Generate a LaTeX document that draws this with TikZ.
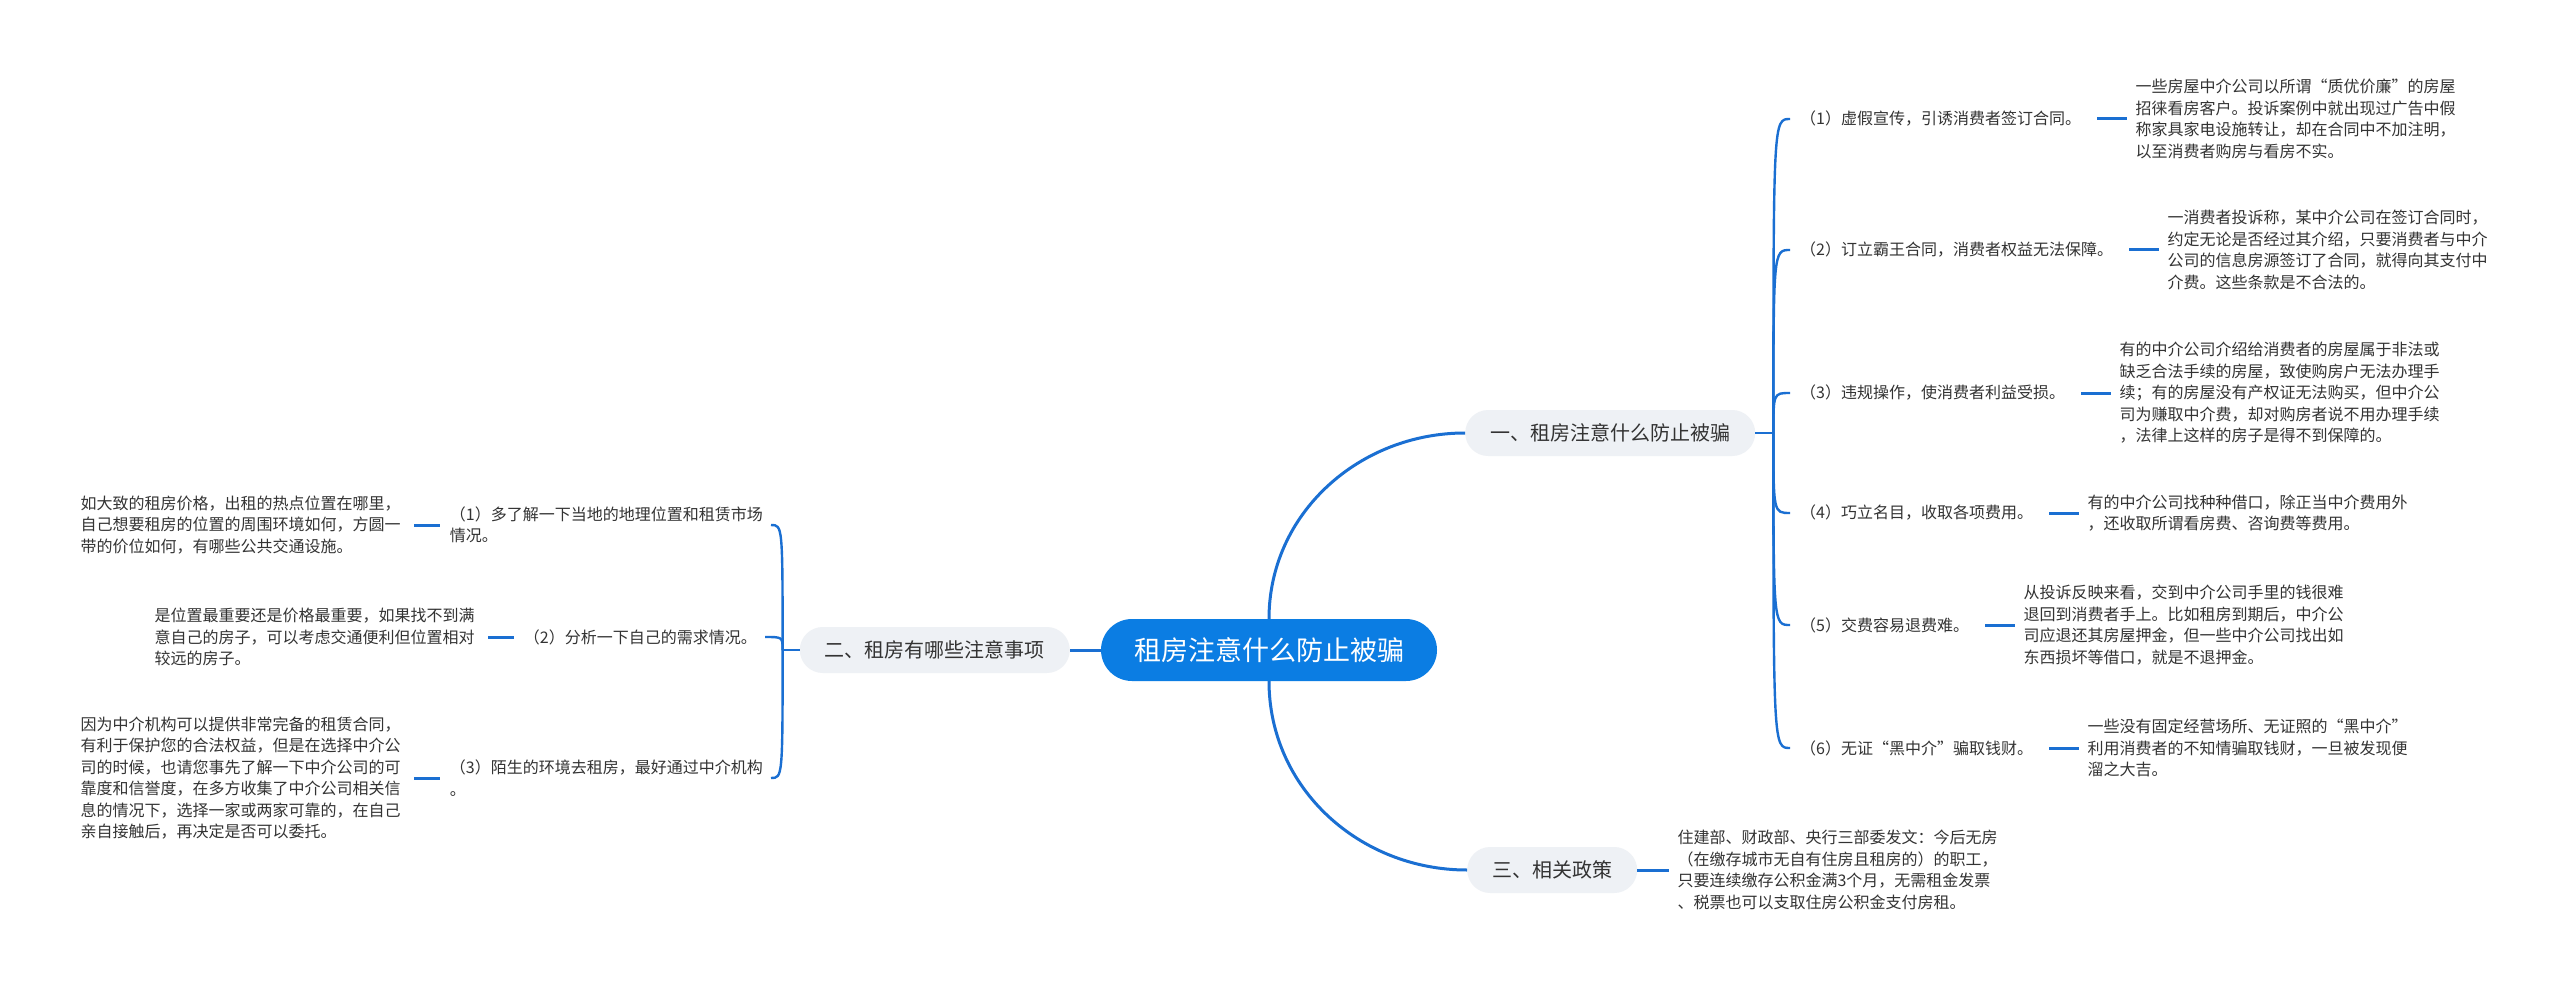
\documentclass[tikz,border=0pt]{standalone}
\usepackage{fontspec}
\setmainfont{Noto Sans CJK SC}
\definecolor{rootblue}{HTML}{0B7DE3}
\definecolor{lineblue}{HTML}{1A6FD2}
\definecolor{branchgray}{HTML}{EEF1F5}
\definecolor{txt}{HTML}{333333}
\begin{document}
\begin{tikzpicture}[x=1pt,y=-1pt,
  rootbox/.style={fill=rootblue,text=white,rounded corners=31pt,minimum height=62pt,minimum width=336pt,inner sep=0pt,font=\fontsize{27}{32}\selectfont},
  branchbox/.style={fill=branchgray,text=txt,rounded corners=23pt,minimum height=46pt,inner xsep=25pt,inner ysep=0pt,font=\fontsize{20}{24}\selectfont},
  itemtext/.style={text=txt,align=left,inner sep=0pt,font=\fontsize{16}{21.5}\selectfont},
  detailtext/.style={text=txt,align=left,inner sep=0pt,font=\fontsize{16}{21.5}\selectfont},
  mainconn/.style={draw=lineblue,line width=3pt},
  conn/.style={draw=lineblue,line width=2.4pt},
  shortconn/.style={draw=lineblue,line width=3pt}]
\fill[white] (0,0) rectangle (2560,987);
\useasboundingbox (0,0) rectangle (2560,987);

% root and branches
\node[rootbox] (root) at (1269,650) {租房注意什么防止被骗};
\node[branchbox,anchor=west] (b1) at (1465,433) {一、租房注意什么防止被骗};
\node[branchbox,anchor=east] (b2) at (1070,650) {二、租房有哪些注意事项};
\node[branchbox,anchor=west] (b3) at (1467,870) {三、相关政策};

\draw[mainconn] (root.north) to[out=90,in=180] (b1.west);
\draw[mainconn] (root.south) to[out=-90,in=180] (b3.west);
\draw[mainconn] (root.west) -- (b2.east);

% branch 1 items
\coordinate (s1) at ([xshift=18pt]b1.east);
\draw[conn] (b1.east) -- (s1);

\node[itemtext,anchor=west] (i1) at (1800,119) {（1）虚假宣传，引诱消费者签订合同。};
\node[itemtext,anchor=west] (i2) at (1800,250) {（2）订立霸王合同，消费者权益无法保障。};
\node[itemtext,anchor=west] (i3) at (1800,393) {（3）违规操作，使消费者利益受损。};
\node[itemtext,anchor=west] (i4) at (1800,513) {（4）巧立名目，收取各项费用。};
\node[itemtext,anchor=west] (i5) at (1800,625) {（5）交费容易退费难。};
\node[itemtext,anchor=west] (i6) at (1800,748) {（6）无证“黑中介”骗取钱财。};

\foreach \i in {i1,i2,i3,i4,i5,i6}{
  \draw[conn] (s1) .. controls (s1 |- \i.west) .. ([xshift=-10pt]\i.west);
}

\node[detailtext,anchor=west] (d1) at ([xshift=54pt]i1.east) {一些房屋中介公司以所谓“质优价廉”的房屋\\招徕看房客户。投诉案例中就出现过广告中假\\称家具家电设施转让，却在合同中不加注明，\\以至消费者购房与看房不实。};
\node[detailtext,anchor=west] (d2) at ([xshift=54pt]i2.east) {一消费者投诉称，某中介公司在签订合同时，\\约定无论是否经过其介绍，只要消费者与中介\\公司的信息房源签订了合同，就得向其支付中\\介费。这些条款是不合法的。};
\node[detailtext,anchor=west] (d3) at ([xshift=54pt]i3.east) {有的中介公司介绍给消费者的房屋属于非法或\\缺乏合法手续的房屋，致使购房户无法办理手\\续；有的房屋没有产权证无法购买，但中介公\\司为赚取中介费，却对购房者说不用办理手续\\，法律上这样的房子是得不到保障的。};
\node[detailtext,anchor=west] (d4) at ([xshift=54pt]i4.east) {有的中介公司找种种借口，除正当中介费用外\\，还收取所谓看房费、咨询费等费用。};
\node[detailtext,anchor=west] (d5) at ([xshift=54pt]i5.east) {从投诉反映来看，交到中介公司手里的钱很难\\退回到消费者手上。比如租房到期后，中介公\\司应退还其房屋押金，但一些中介公司找出如\\东西损坏等借口，就是不退押金。};
\node[detailtext,anchor=west] (d6) at ([xshift=54pt]i6.east) {一些没有固定经营场所、无证照的“黑中介”\\利用消费者的不知情骗取钱财，一旦被发现便\\溜之大吉。};

\foreach \i/\d in {i1/d1,i2/d2,i3/d3,i4/d4,i5/d5,i6/d6}{
  \draw[shortconn] ([xshift=16pt]\i.east) -- ([xshift=-8pt]\d.west |- \i.east);
}

% branch 3 detail
\node[detailtext,anchor=west] (d7) at ([xshift=40pt]b3.east) {住建部、财政部、央行三部委发文：今后无房\\（在缴存城市无自有住房且租房的）的职工，\\只要连续缴存公积金满3个月，无需租金发票\\、税票也可以支取住房公积金支付房租。};
\draw[shortconn] (b3.east) -- ([xshift=-8pt]d7.west |- b3.east);

% branch 2 items
\coordinate (s2) at ([xshift=-17pt]b2.west);
\draw[conn] (b2.west) -- (s2);

\node[itemtext,anchor=east] (li1) at (763,525) {（1）多了解一下当地的地理位置和租赁市场\\情况。};
\node[itemtext,anchor=east] (li2) at (757,637) {（2）分析一下自己的需求情况。};
\node[itemtext,anchor=east] (li3) at (763,778) {（3）陌生的环境去租房，最好通过中介机构\\。};

\foreach \i in {li1,li2,li3}{
  \draw[conn] (s2) .. controls (s2 |- \i.east) .. ([xshift=8pt]\i.east);
}

\node[detailtext,anchor=east] (ld1) at ([xshift=-49pt]li1.west) {如大致的租房价格，出租的热点位置在哪里，\\自己想要租房的位置的周围环境如何，方圆一\\带的价位如何，有哪些公共交通设施。};
\node[detailtext,anchor=east] (ld2) at ([xshift=-49pt]li2.west) {是位置最重要还是价格最重要，如果找不到满\\意自己的房子，可以考虑交通便利但位置相对\\较远的房子。};
\node[detailtext,anchor=east] (ld3) at ([xshift=-49pt]li3.west) {因为中介机构可以提供非常完备的租赁合同，\\有利于保护您的合法权益，但是在选择中介公\\司的时候，也请您事先了解一下中介公司的可\\靠度和信誉度，在多方收集了中介公司相关信\\息的情况下，选择一家或两家可靠的，在自己\\亲自接触后，再决定是否可以委托。};

\foreach \i/\d in {li1/ld1,li2/ld2,li3/ld3}{
  \draw[shortconn] ([xshift=-10pt]\i.west) -- ([xshift=13pt]\d.east |- \i.west);
}
\end{tikzpicture}
\end{document}
